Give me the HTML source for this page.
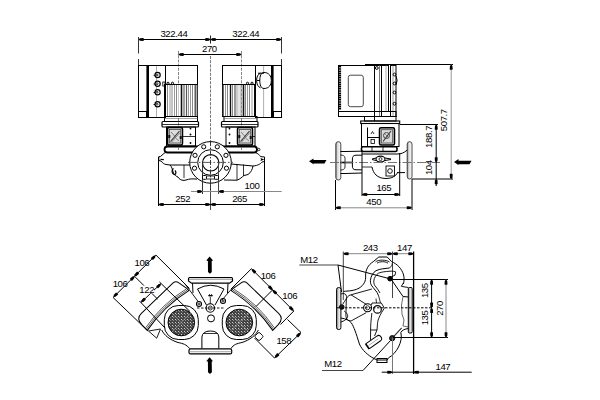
<!DOCTYPE html>
<html><head><meta charset="utf-8"><style>
html,body{margin:0;padding:0;background:#fff;width:600px;height:400px;overflow:hidden}
svg{display:block}
text{font-family:"Liberation Sans",sans-serif;font-size:9.6px;letter-spacing:-0.4px}
</style></head><body>
<svg width="600" height="400" viewBox="0 0 600 400">
<rect width="600" height="400" fill="#fff"/>
<line x1="138.5" y1="39.5" x2="281.5" y2="39.5" stroke="#000" stroke-width="1"/>
<polygon points="138.50,39.50 140.10,40.75 143.20,41.00 143.80,40.50 143.80,38.50 143.20,38.00 140.10,38.25" fill="#000"/>
<polygon points="210.50,39.50 208.90,38.25 205.80,38.00 205.20,38.50 205.20,40.50 205.80,41.00 208.90,40.75" fill="#000"/>
<polygon points="210.50,39.50 212.10,40.75 215.20,41.00 215.80,40.50 215.80,38.50 215.20,38.00 212.10,38.25" fill="#000"/>
<polygon points="281.50,39.50 279.90,38.25 276.80,38.00 276.20,38.50 276.20,40.50 276.80,41.00 279.90,40.75" fill="#000"/>
<text x="173.9" y="36.5" text-anchor="middle" fill="#000">322.44</text>
<text x="245.8" y="36.5" text-anchor="middle" fill="#000">322.44</text>
<line x1="138.5" y1="37" x2="138.5" y2="65" stroke="#333" stroke-width="1" stroke-dasharray="16.5,5.5"/>
<line x1="281.5" y1="37" x2="281.5" y2="65" stroke="#333" stroke-width="1" stroke-dasharray="16.5,5.5"/>
<line x1="210.5" y1="35.5" x2="210.5" y2="43.5" stroke="#222" stroke-width="1"/>
<line x1="178.5" y1="54.5" x2="241.5" y2="54.5" stroke="#000" stroke-width="1"/>
<polygon points="178.50,54.50 180.10,55.75 183.20,56.00 183.80,55.50 183.80,53.50 183.20,53.00 180.10,53.25" fill="#000"/>
<polygon points="241.50,54.50 239.90,53.25 236.80,53.00 236.20,53.50 236.20,55.50 236.80,56.00 239.90,55.75" fill="#000"/>
<text x="209.4" y="51.5" text-anchor="middle" fill="#000">270</text>
<line x1="178.5" y1="51" x2="178.5" y2="150" stroke="#777" stroke-width="0.9" stroke-dasharray="3,1.2"/>
<line x1="241.5" y1="51" x2="241.5" y2="150" stroke="#777" stroke-width="0.9" stroke-dasharray="3,1.2"/>
<line x1="210.5" y1="56" x2="210.5" y2="183" stroke="#666" stroke-width="0.9" stroke-dasharray="3,1.2"/>
<line x1="210.5" y1="183" x2="210.5" y2="210" stroke="#333" stroke-width="0.9"/>
<rect x="138.5" y="65.5" width="9.0" height="52.0" rx="0" stroke="#000" stroke-width="1" fill="none"/>
<line x1="147.2" y1="65" x2="147.2" y2="118" stroke="#000" stroke-width="1.6"/>
<rect x="148.5" y="65.5" width="17.0" height="52.0" rx="0" stroke="#000" stroke-width="1" fill="none"/>
<rect x="138.5" y="111.5" width="8.0" height="6.0" rx="0" stroke="#000" stroke-width="1" fill="none"/>
<line x1="156.5" y1="66" x2="156.5" y2="117" stroke="#999" stroke-width="0.8"/>
<circle cx="157.6" cy="75" r="2.6" stroke="#000" stroke-width="1.2" fill="#fff"/>
<circle cx="157" cy="75" r="1" stroke="#000" stroke-width="0.8" fill="none"/>
<line x1="153.6" y1="75.3" x2="155" y2="75.3" stroke="#000" stroke-width="1"/>
<circle cx="157.6" cy="83.7" r="2.6" stroke="#000" stroke-width="1.2" fill="#fff"/>
<circle cx="157" cy="83.7" r="1" stroke="#000" stroke-width="0.8" fill="none"/>
<line x1="153.6" y1="84.0" x2="155" y2="84.0" stroke="#000" stroke-width="1"/>
<circle cx="157.6" cy="92.2" r="2.6" stroke="#000" stroke-width="1.2" fill="#fff"/>
<circle cx="157" cy="92.2" r="1" stroke="#000" stroke-width="0.8" fill="none"/>
<line x1="153.6" y1="92.5" x2="155" y2="92.5" stroke="#000" stroke-width="1"/>
<circle cx="157.6" cy="104.2" r="2.6" stroke="#000" stroke-width="1.2" fill="#fff"/>
<circle cx="157" cy="104.2" r="1" stroke="#000" stroke-width="0.8" fill="none"/>
<line x1="153.6" y1="104.5" x2="155" y2="104.5" stroke="#000" stroke-width="1"/>
<rect x="165.5" y="65.5" width="32.0" height="19.0" rx="0" stroke="#000" stroke-width="1" fill="none"/>
<rect x="164.5" y="84.5" width="33.0" height="32.0" rx="0" stroke="#000" stroke-width="1" fill="none"/>
<line x1="165.2" y1="85" x2="165.2" y2="116" stroke="#000" stroke-width="1.5"/>
<line x1="167.5" y1="85" x2="167.5" y2="116" stroke="#888" stroke-width="1"/>
<line x1="170" y1="85" x2="170" y2="116" stroke="#999" stroke-width="1"/>
<line x1="172" y1="85" x2="172" y2="116" stroke="#888" stroke-width="1"/>
<line x1="174.5" y1="85" x2="174.5" y2="116" stroke="#999" stroke-width="1"/>
<line x1="176.5" y1="85" x2="176.5" y2="116" stroke="#888" stroke-width="1"/>
<line x1="178.5" y1="85" x2="178.5" y2="116" stroke="#ccc" stroke-width="1"/>
<line x1="181.5" y1="85" x2="181.5" y2="116" stroke="#111" stroke-width="1.6"/>
<line x1="184" y1="85" x2="184" y2="116" stroke="#444" stroke-width="1"/>
<line x1="186.5" y1="85" x2="186.5" y2="116" stroke="#555" stroke-width="1.2"/>
<line x1="188.5" y1="85" x2="188.5" y2="116" stroke="#999" stroke-width="1"/>
<line x1="190.5" y1="85" x2="190.5" y2="116" stroke="#999" stroke-width="1"/>
<line x1="192.5" y1="85" x2="192.5" y2="116" stroke="#888" stroke-width="1"/>
<line x1="195.2" y1="85" x2="195.2" y2="116" stroke="#333" stroke-width="1.2"/>
<line x1="197" y1="85" x2="197" y2="116" stroke="#666" stroke-width="1"/>
<circle cx="168" cy="83.3" r="1.1" stroke="#000" stroke-width="1" fill="none"/>
<circle cx="172.5" cy="83.3" r="1.1" stroke="#000" stroke-width="1" fill="none"/>
<rect x="162.8" y="82" width="2.2" height="4" rx="0" stroke="#000" stroke-width="0.8" fill="none"/>
<rect x="272.5" y="65.5" width="9.0" height="52.0" rx="0" stroke="#000" stroke-width="1" fill="none"/>
<line x1="272.8" y1="65" x2="272.8" y2="118" stroke="#000" stroke-width="1.6"/>
<rect x="255.5" y="65.5" width="16.0" height="52.0" rx="0" stroke="#000" stroke-width="1" fill="none"/>
<rect x="273.5" y="111.5" width="8.0" height="6.0" rx="0" stroke="#000" stroke-width="1" fill="none"/>
<line x1="263.6" y1="66" x2="263.6" y2="72" stroke="#999" stroke-width="0.8"/>
<line x1="263.6" y1="89" x2="263.6" y2="117" stroke="#999" stroke-width="0.8"/>
<rect x="222.5" y="65.5" width="33.0" height="19.0" rx="0" stroke="#000" stroke-width="1" fill="none"/>
<rect x="222.5" y="84.5" width="33.0" height="32.0" rx="0" stroke="#000" stroke-width="1" fill="none"/>
<line x1="223.2" y1="85" x2="223.2" y2="116" stroke="#444" stroke-width="1.2"/>
<line x1="225.5" y1="85" x2="225.5" y2="116" stroke="#999" stroke-width="1"/>
<line x1="227.5" y1="85" x2="227.5" y2="116" stroke="#888" stroke-width="1"/>
<line x1="230.5" y1="85" x2="230.5" y2="116" stroke="#111" stroke-width="1.4"/>
<line x1="232.5" y1="85" x2="232.5" y2="116" stroke="#888" stroke-width="1"/>
<line x1="235" y1="85" x2="235" y2="116" stroke="#555" stroke-width="1.2"/>
<line x1="237" y1="85" x2="237" y2="116" stroke="#999" stroke-width="1"/>
<line x1="239" y1="85" x2="239" y2="116" stroke="#ccc" stroke-width="1"/>
<line x1="241" y1="85" x2="241" y2="116" stroke="#999" stroke-width="1"/>
<line x1="243.5" y1="85" x2="243.5" y2="116" stroke="#111" stroke-width="1.6"/>
<line x1="245.5" y1="85" x2="245.5" y2="116" stroke="#888" stroke-width="1"/>
<line x1="247.5" y1="85" x2="247.5" y2="116" stroke="#999" stroke-width="1"/>
<line x1="249.5" y1="85" x2="249.5" y2="116" stroke="#888" stroke-width="1"/>
<line x1="252" y1="85" x2="252" y2="116" stroke="#999" stroke-width="1"/>
<line x1="254.8" y1="85" x2="254.8" y2="116" stroke="#000" stroke-width="1.5"/>
<circle cx="247.5" cy="83.3" r="1.1" stroke="#000" stroke-width="1" fill="none"/>
<circle cx="252" cy="83.3" r="1.1" stroke="#000" stroke-width="1" fill="none"/>
<path d="M264,72.5 C269,72.5 271.3,76 271.3,80.5 C271.3,85 269,88.5 264,88.5 C261,88.5 259.8,85 259.8,80.5 C259.8,76 261,72.5 264,72.5 Z" stroke="#000" stroke-width="1" fill="#fff" />
<path d="M260.5,73.2 C257.8,74.2 256.6,77 256.6,80.5 C256.6,84 257.8,86.8 260.5,87.8 M258,73.2 L264,73.2 M256.8,80.5 L260,80.5" stroke="#000" stroke-width="1" fill="none" />
<rect x="164.5" y="116.5" width="33.0" height="5.0" rx="0" stroke="#000" stroke-width="1" fill="none"/>
<line x1="164.5" y1="118.5" x2="197.5" y2="118.5" stroke="#666" stroke-width="0.6"/>
<rect x="162" y="121.5" width="36.5" height="5.5" rx="1" stroke="#000" stroke-width="1.2" fill="none"/>
<line x1="162" y1="124.5" x2="198.5" y2="124.5" stroke="#000" stroke-width="0.8"/>
<rect x="166.5" y="127" width="29.0" height="19" rx="0" stroke="#000" stroke-width="1" fill="none"/>
<rect x="167.5" y="127.5" width="15.0" height="17.5" rx="1.5" stroke="#000" stroke-width="1.5" fill="#dcdcdc"/>
<rect x="169.3" y="129.5" width="11.4" height="13.5" rx="0" stroke="#444" stroke-width="0.8" fill="none"/>
<line x1="170.5" y1="141.5" x2="179.5" y2="131" stroke="#333" stroke-width="1.1"/>
<line x1="171.5" y1="142" x2="180.0" y2="132.5" stroke="#555" stroke-width="0.7"/>
<line x1="171.0" y1="132" x2="175.5" y2="137" stroke="#555" stroke-width="0.7"/>
<line x1="175.5" y1="138" x2="179.0" y2="141" stroke="#555" stroke-width="0.7"/>
<rect x="168.3" y="135" width="2.0" height="3" rx="0" stroke="#000" stroke-width="0" fill="#111"/>
<rect x="179.7" y="136" width="2.0" height="3" rx="0" stroke="#000" stroke-width="0" fill="#111"/>
<line x1="182.5" y1="136.5" x2="195.5" y2="136.5" stroke="#000" stroke-width="0.8"/>
<circle cx="190.5" cy="128.5" r="0.9" stroke="#000" stroke-width="0" fill="#000"/>
<circle cx="190.5" cy="134.5" r="0.9" stroke="#000" stroke-width="0" fill="#000"/>
<circle cx="190.5" cy="143" r="0.9" stroke="#000" stroke-width="0" fill="#000"/>
<rect x="224.0" y="116.5" width="33.0" height="5.0" rx="0" stroke="#000" stroke-width="1" fill="none"/>
<line x1="224.0" y1="118.5" x2="257" y2="118.5" stroke="#666" stroke-width="0.6"/>
<rect x="221.5" y="121.5" width="36.5" height="5.5" rx="1" stroke="#000" stroke-width="1.2" fill="none"/>
<line x1="221.5" y1="124.5" x2="258" y2="124.5" stroke="#000" stroke-width="0.8"/>
<rect x="226.0" y="127" width="29.0" height="19" rx="0" stroke="#000" stroke-width="1" fill="none"/>
<rect x="237.5" y="127.5" width="15.0" height="17.5" rx="1.5" stroke="#000" stroke-width="1.5" fill="#dcdcdc"/>
<rect x="239.3" y="129.5" width="11.4" height="13.5" rx="0" stroke="#444" stroke-width="0.8" fill="none"/>
<line x1="240.5" y1="141.5" x2="249.5" y2="131" stroke="#333" stroke-width="1.1"/>
<line x1="241.5" y1="142" x2="250.0" y2="132.5" stroke="#555" stroke-width="0.7"/>
<line x1="241.0" y1="132" x2="245.5" y2="137" stroke="#555" stroke-width="0.7"/>
<line x1="245.5" y1="138" x2="249.0" y2="141" stroke="#555" stroke-width="0.7"/>
<rect x="238.3" y="135" width="2.0" height="3" rx="0" stroke="#000" stroke-width="0" fill="#111"/>
<rect x="249.7" y="136" width="2.0" height="3" rx="0" stroke="#000" stroke-width="0" fill="#111"/>
<line x1="252.5" y1="136.5" x2="255" y2="136.5" stroke="#000" stroke-width="0.8"/>
<circle cx="229.5" cy="128.5" r="0.9" stroke="#000" stroke-width="0" fill="#000"/>
<circle cx="229.5" cy="134.5" r="0.9" stroke="#000" stroke-width="0" fill="#000"/>
<circle cx="229.5" cy="143" r="0.9" stroke="#000" stroke-width="0" fill="#000"/>
<rect x="164.5" y="146.5" width="92.5" height="6.0" rx="3" stroke="#000" stroke-width="1.8" fill="none"/>
<circle cx="258.8" cy="149.5" r="1.2" stroke="#000" stroke-width="0.8" fill="none"/>
<path d="M165,152.6 L160.3,156.6 L158.8,156.6 L158.8,160.5 L161,161 C162.5,163 164,164 166,164.5 L170,165 L190,165" stroke="#000" stroke-width="1" fill="none" />
<line x1="160.5" y1="159.3" x2="163.8" y2="159.6" stroke="#000" stroke-width="1.3"/>
<path d="M170,165 C171.5,166.5 172.5,169 173,172 C174,175 176.5,176.5 178,177 C179,179 181,180.4 184,180.4 L186,180 C189,178.8 193,178.6 197,179.2" stroke="#000" stroke-width="1" fill="none" />
<line x1="184" y1="165" x2="184" y2="178" stroke="#000" stroke-width="0.8"/>
<path d="M173.5,168.5 C171.5,170 171.5,173 174,174.5 C176,175 176.5,172 175,170.5" stroke="#000" stroke-width="1.2" fill="none" />
<path d="M255.5,152.6 C258,153.5 259.5,155 260.5,156.6 L264.5,157 L264.5,161.5 L262,162 C260.5,164 258,165.5 253,166 L231,164" stroke="#000" stroke-width="1" fill="none" />
<polygon points="264.3,159.4 260.5,157.9 261,159.4 260.5,160.9" fill="#000"/>
<path d="M253,166 C252.5,169 251,172.5 248,174.5 L244,175.5 C242,177 240,179.2 237,180.2 L224,180" stroke="#000" stroke-width="1" fill="none" />
<line x1="243.5" y1="164.5" x2="243.5" y2="176" stroke="#000" stroke-width="0.8"/>
<line x1="237" y1="164.5" x2="237" y2="180" stroke="#000" stroke-width="0.8"/>
<circle cx="210.5" cy="162.4" r="20.8" stroke="#000" stroke-width="1" fill="#fff"/>
<circle cx="210.5" cy="162.5" r="12.8" stroke="#000" stroke-width="1" fill="none"/>
<circle cx="210.7" cy="162.8" r="8.2" stroke="#000" stroke-width="1.1" fill="none"/>
<circle cx="217.28" cy="146.81" r="2.1" stroke="#000" stroke-width="1" fill="none"/>
<circle cx="203.72" cy="146.81" r="2.1" stroke="#000" stroke-width="1" fill="none"/>
<circle cx="225.96" cy="155.32" r="2.1" stroke="#000" stroke-width="1" fill="none"/>
<circle cx="195.04" cy="155.32" r="2.1" stroke="#000" stroke-width="1" fill="none"/>
<circle cx="226.47" cy="168.21" r="2.1" stroke="#000" stroke-width="1" fill="none"/>
<circle cx="194.53" cy="168.21" r="2.1" stroke="#000" stroke-width="1" fill="none"/>
<line x1="202.5" y1="162.8" x2="202.5" y2="194" stroke="#333" stroke-width="1"/>
<line x1="218.5" y1="162.8" x2="218.5" y2="194" stroke="#444" stroke-width="1"/>
<rect x="202.5" y="175.5" width="4.0" height="3.8" rx="0.8" stroke="#000" stroke-width="1" fill="none"/>
<rect x="214.5" y="175.5" width="4.0" height="3.8" rx="0.8" stroke="#000" stroke-width="1" fill="none"/>
<line x1="206.5" y1="176" x2="214.9" y2="176" stroke="#000" stroke-width="0.8"/>
<line x1="206.5" y1="179" x2="214.9" y2="179" stroke="#000" stroke-width="0.8"/>
<line x1="210.5" y1="141" x2="210.5" y2="190" stroke="#222" stroke-width="0.9" stroke-dasharray="5,1.5,1.5,1.5"/>
<line x1="188" y1="162.4" x2="233" y2="162.4" stroke="#444" stroke-width="0.9" stroke-dasharray="9,2,1.5,2"/>
<line x1="158.5" y1="157" x2="158.5" y2="206" stroke="#000" stroke-width="1"/>
<line x1="264.5" y1="157" x2="264.5" y2="206" stroke="#000" stroke-width="1"/>
<line x1="158.5" y1="204.5" x2="264.5" y2="204.5" stroke="#000" stroke-width="1"/>
<polygon points="158.50,204.50 160.10,205.75 163.20,206.00 163.80,205.50 163.80,203.50 163.20,203.00 160.10,203.25" fill="#000"/>
<polygon points="210.50,204.50 208.90,203.25 205.80,203.00 205.20,203.50 205.20,205.50 205.80,206.00 208.90,205.75" fill="#000"/>
<polygon points="210.50,204.50 212.10,205.75 215.20,206.00 215.80,205.50 215.80,203.50 215.20,203.00 212.10,203.25" fill="#000"/>
<polygon points="264.50,204.50 262.90,203.25 259.80,203.00 259.20,203.50 259.20,205.50 259.80,206.00 262.90,205.75" fill="#000"/>
<text x="182.7" y="201.5" text-anchor="middle" fill="#000">252</text>
<text x="239.6" y="201.5" text-anchor="middle" fill="#000">265</text>
<line x1="191" y1="191.5" x2="281.7" y2="191.5" stroke="#888" stroke-width="1"/>
<polygon points="202.50,191.50 200.90,190.25 197.80,190.00 197.20,190.50 197.20,192.50 197.80,193.00 200.90,192.75" fill="#000"/>
<polygon points="218.50,191.50 220.10,192.75 223.20,193.00 223.80,192.50 223.80,190.50 223.20,190.00 220.10,190.25" fill="#000"/>
<text x="252" y="188.7" text-anchor="middle" fill="#000">100</text>
<rect x="338.5" y="65.5" width="50.0" height="46.0" rx="0" stroke="#000" stroke-width="1" fill="none"/>
<line x1="339.8" y1="66" x2="339.8" y2="110" stroke="#000" stroke-width="2.6" stroke-dasharray="1.6,0.6"/>
<rect x="348.3" y="75.2" width="15.0" height="31.5" rx="2.2" stroke="#333" stroke-width="0.9" fill="none"/>
<line x1="374.5" y1="65.5" x2="374.5" y2="121" stroke="#000" stroke-width="1"/>
<line x1="379.5" y1="65.5" x2="379.5" y2="116.5" stroke="#777" stroke-width="1"/>
<line x1="381.5" y1="65.5" x2="381.5" y2="116.5" stroke="#000" stroke-width="1"/>
<line x1="386" y1="65.5" x2="386" y2="111.5" stroke="#999" stroke-width="0.8"/>
<circle cx="376.8" cy="68" r="1.4" stroke="#000" stroke-width="1" fill="none"/>
<rect x="390.5" y="65.5" width="5.5" height="51.0" rx="0" stroke="#000" stroke-width="1" fill="none"/>
<line x1="393" y1="65.5" x2="393" y2="116.5" stroke="#888" stroke-width="0.8"/>
<circle cx="394.5" cy="74.5" r="1.4" stroke="#000" stroke-width="1" fill="none"/>
<circle cx="394.5" cy="83.5" r="1.4" stroke="#000" stroke-width="1" fill="none"/>
<circle cx="394.5" cy="92.5" r="1.4" stroke="#000" stroke-width="1" fill="none"/>
<circle cx="394.5" cy="103.7" r="1.4" stroke="#000" stroke-width="1" fill="none"/>
<path d="M396,76 q2.2,4.5 0,9" stroke="#000" stroke-width="1" fill="none" />
<rect x="338.5" y="111.5" width="57.5" height="5.0" rx="0" stroke="#000" stroke-width="1" fill="none"/>
<rect x="364.5" y="116.5" width="31.5" height="4.5" rx="0" stroke="#000" stroke-width="1" fill="none"/>
<rect x="360.7" y="121" width="39.0" height="2.5" rx="0" stroke="#000" stroke-width="1.1" fill="none"/>
<rect x="361.5" y="123.5" width="37.5" height="23.0" rx="0" stroke="#000" stroke-width="1" fill="none"/>
<rect x="379.5" y="127.7" width="15.0" height="17.3" rx="1.5" stroke="#000" stroke-width="1.5" fill="#dcdcdc"/>
<rect x="381.3" y="129.7" width="11.4" height="13.3" rx="0" stroke="#444" stroke-width="0.8" fill="none"/>
<line x1="383" y1="141.5" x2="391" y2="131" stroke="#333" stroke-width="1.1"/>
<circle cx="386.5" cy="135.5" r="3" stroke="#444" stroke-width="1" fill="none"/>
<line x1="384" y1="133" x2="389" y2="138" stroke="#555" stroke-width="0.7"/>
<line x1="367.5" y1="127.5" x2="367.5" y2="146" stroke="#000" stroke-width="1"/>
<line x1="367.5" y1="137.5" x2="379.5" y2="137.5" stroke="#000" stroke-width="1"/>
<path d="M371,134 l1.5,-2.5 l1.5,2.5" stroke="#000" stroke-width="0.8" fill="none" />
<rect x="371" y="139.5" width="3.5" height="4.0" rx="0" stroke="#000" stroke-width="0.8" fill="none"/>
<rect x="361.5" y="146.8" width="35.5" height="4.7" rx="1.5" stroke="#000" stroke-width="1.6" fill="none"/>
<line x1="372" y1="147" x2="372" y2="151.5" stroke="#000" stroke-width="0.8"/>
<line x1="383" y1="147" x2="383" y2="151.5" stroke="#000" stroke-width="0.8"/>
<defs><linearGradient id="fl" x1="0" x2="1"><stop offset="0" stop-color="#777"/><stop offset="0.35" stop-color="#ddd"/><stop offset="1" stop-color="#fff"/></linearGradient></defs>
<rect x="335.8" y="141.7" width="5.0" height="38.3" rx="2.4" stroke="#333" stroke-width="0.9" fill="url(#fl)"/>
<rect x="407.2" y="141.7" width="4.8" height="37.3" rx="2.4" stroke="#333" stroke-width="0.9" fill="url(#fl)"/>
<path d="M340.5,151.5 L345,151.5 L362,151.2 M340.5,173.5 L345,173.5 L362,173" stroke="#000" stroke-width="1" fill="none" />
<path d="M340.5,155 C343,155 345,156 345,158 L345,167 C345,169 343,170 340.5,170" stroke="#000" stroke-width="0.8" fill="none" />
<path d="M362,155.2 L356,155.2 C353,155.2 352.4,157 352.4,159 L352.4,166 C352.4,168 353,169.8 356,169.8 L362,169.8" stroke="#000" stroke-width="1" fill="none" />
<line x1="340.5" y1="162.5" x2="352" y2="162.5" stroke="#000" stroke-width="1.6"/>
<path d="M362,154 L397,154 C401,154 404,153 407.2,150" stroke="#000" stroke-width="1" fill="none" />
<path d="M397,172.6 L405,172.6 M372,167 C373,173 377,178.5 386,178.5 C392,178.5 396,176 397.5,172.6" stroke="#000" stroke-width="1" fill="none" />
<line x1="362" y1="167" x2="372" y2="167" stroke="#000" stroke-width="0.8"/>
<ellipse cx="380.5" cy="159.1" rx="4.5" ry="3" stroke="#000" fill="none" stroke-width="1.1"/>
<path d="M372,159 L376,158 M385,158 L391,159 M372,159.5 L376,160.5 M385,160.5 L391,159.5" stroke="#000" stroke-width="1" fill="none" />
<circle cx="380.5" cy="159.1" r="1.5" stroke="#000" stroke-width="0.8" fill="none"/>
<rect x="386" y="166" width="8.5" height="10" rx="0" stroke="#000" stroke-width="0.9" fill="none"/>
<circle cx="390" cy="171" r="2.3" stroke="#000" stroke-width="0.9" fill="none"/>
<line x1="330" y1="162.5" x2="440" y2="162.5" stroke="#666" stroke-width="0.9" stroke-dasharray="9,2,1.5,2"/>
<line x1="362" y1="150" x2="362" y2="196" stroke="#000" stroke-width="1"/>
<line x1="399.7" y1="153" x2="399.7" y2="196" stroke="#000" stroke-width="1"/>
<line x1="362" y1="194.5" x2="399.7" y2="194.5" stroke="#000" stroke-width="1"/>
<polygon points="362.00,194.50 363.60,195.75 366.70,196.00 367.30,195.50 367.30,193.50 366.70,193.00 363.60,193.25" fill="#000"/>
<polygon points="399.70,194.50 398.10,193.25 395.00,193.00 394.40,193.50 394.40,195.50 395.00,196.00 398.10,195.75" fill="#000"/>
<text x="383.8" y="191.0" text-anchor="middle" fill="#000">165</text>
<line x1="335.5" y1="180" x2="335.5" y2="210" stroke="#000" stroke-width="1"/>
<line x1="412" y1="179" x2="412" y2="210" stroke="#000" stroke-width="1"/>
<line x1="335.5" y1="207.8" x2="412" y2="207.8" stroke="#888" stroke-width="1"/>
<polygon points="335.50,207.80 337.10,209.05 340.20,209.30 340.80,208.80 340.80,206.80 340.20,206.30 337.10,206.55" fill="#000"/>
<polygon points="412.00,207.80 410.40,206.55 407.30,206.30 406.70,206.80 406.70,208.80 407.30,209.30 410.40,209.05" fill="#000"/>
<text x="373.7" y="204.5" text-anchor="middle" fill="#000">450</text>
<line x1="365" y1="64.5" x2="453" y2="64.5" stroke="#000" stroke-width="1"/>
<line x1="451.2" y1="64.5" x2="451.2" y2="179" stroke="#999" stroke-width="1"/>
<polygon points="451.20,64.50 449.95,66.10 449.70,69.20 450.20,69.80 452.20,69.80 452.70,69.20 452.45,66.10" fill="#000"/>
<polygon points="451.20,179.00 452.45,177.40 452.70,174.30 452.20,173.70 450.20,173.70 449.70,174.30 449.95,177.40" fill="#000"/>
<line x1="412" y1="179" x2="453" y2="179" stroke="#000" stroke-width="1"/>
<text x="446.8" y="120.2" text-anchor="middle" fill="#000" transform="rotate(-90 446.8 120.2)">507.7</text>
<line x1="399.7" y1="124.5" x2="438" y2="124.5" stroke="#000" stroke-width="1"/>
<line x1="436.2" y1="124.5" x2="436.2" y2="186" stroke="#000" stroke-width="1"/>
<polygon points="436.20,124.50 434.95,126.10 434.70,129.20 435.20,129.80 437.20,129.80 437.70,129.20 437.45,126.10" fill="#000"/>
<polygon points="436.20,162.50 437.45,160.90 437.70,157.80 437.20,157.20 435.20,157.20 434.70,157.80 434.95,160.90" fill="#000"/>
<polygon points="436.20,179.00 434.95,180.60 434.70,183.70 435.20,184.30 437.20,184.30 437.70,183.70 437.45,180.60" fill="#000"/>
<text x="432.2" y="136.9" text-anchor="middle" fill="#000" transform="rotate(-90 432.2 136.9)">188.7</text>
<text x="432.2" y="167.7" text-anchor="middle" fill="#000" transform="rotate(-90 432.2 167.7)">104</text>
<polygon points="309,161.3 313.5,158.4 313.5,160 326.5,160 324.5,163.6 313.5,163.6 313.5,164.3" fill="#000"/>
<polygon points="454,162 458.5,159.1 458.5,160.7 471.5,160.7 469.5,164.3 458.5,164.3 458.5,165" fill="#000"/>
<polygon points="209.6,256.5 213,260.6 211.7,260.9 211.8,272 210,273.8 208,272 207.9,260.9 206.3,260.6" fill="#000"/>
<polygon points="209.6,357.2 213,361.2 211.7,361.5 211.9,372.3 210,374 208,372.3 207.9,361.5 206.3,361.2" fill="#000"/>
<g transform="matrix(-0.722 0.692 -0.692 -0.722 188.8 290.6)"><path d="M0,0 Q28.75,6 57.5,0 L57.5,8 Q57.5,16.4 50,16.4 L6,16.4 Q2.5,16.4 1.8,12.5 L0,3 Z" fill="#fff" stroke="#000" stroke-width="1"/><path d="M1,1.5 Q28.5,7.5 57,1.5 M1,3 Q28.5,9 56.8,3" stroke="#222" stroke-width="0.7" fill="none"/></g>
<g transform="matrix(0.722 0.692 0.692 -0.722 231.2 290.6)"><path d="M0,0 Q28.75,6 57.5,0 L57.5,8 Q57.5,16.4 50,16.4 L6,16.4 Q2.5,16.4 1.8,12.5 L0,3 Z" fill="#fff" stroke="#000" stroke-width="1"/><path d="M1,1.5 Q28.5,7.5 57,1.5 M1,3 Q28.5,9 56.8,3" stroke="#222" stroke-width="0.7" fill="none"/></g>
<path d="M189,277.5 L231.5,277.5 Q232.5,277.5 232.5,279 L232.5,281 L229.5,283.2 L191.5,283.2 L188.5,281 L188.5,279 Q188.5,277.5 189.5,277.5 Z" stroke="#000" stroke-width="1.2" fill="#fff" />
<line x1="189" y1="279.2" x2="232" y2="279.2" stroke="#555" stroke-width="0.7"/>
<path d="M192.5,283.2 L193,293 M228,283.2 L227.5,293" stroke="#000" stroke-width="1" fill="none" />
<path d="M197.5,289 Q210.5,281.5 224,289 L215,305 M197.5,289 L206.5,305" stroke="#000" stroke-width="1" fill="none" />
<path d="M208.5,296 l1,-1.5 l1,1 l1,-1 l1,1.5 z" stroke="#000" stroke-width="0.8" fill="#000" />
<line x1="210.3" y1="297" x2="210.3" y2="304" stroke="#000" stroke-width="0.8"/>
<line x1="197" y1="308" x2="225" y2="308" stroke="#000" stroke-width="0.9" stroke-dasharray="2.5,1.5"/>
<circle cx="199" cy="304" r="2.5" stroke="#000" stroke-width="1.1" fill="none"/>
<circle cx="199" cy="304" r="1" stroke="#000" stroke-width="0.8" fill="none"/>
<circle cx="223" cy="301" r="2.5" stroke="#000" stroke-width="1.1" fill="none"/>
<circle cx="223" cy="301" r="1" stroke="#000" stroke-width="0.8" fill="none"/>
<circle cx="210.3" cy="308" r="4.2" stroke="#000" stroke-width="1.1" fill="none"/>
<circle cx="210.3" cy="308" r="2" stroke="#000" stroke-width="0.8" fill="none"/>
<circle cx="211" cy="318.4" r="3.5" stroke="#000" stroke-width="1" fill="none"/>
<path d="M185,284 L198.5,302 M235,285 L222,300" stroke="#000" stroke-width="0.9" fill="none" />
<path d="M161.7,330 C164,335 170,340 178,342.5 C183,343.5 186.5,344.5 189.5,348.5" stroke="#000" stroke-width="1" fill="none" />
<path d="M258.3,330 C256,335 250,340 242,342.5 C237,343.5 233.5,344.5 231,348.5" stroke="#000" stroke-width="1" fill="none" />
<path d="M201.9,348.5 L201.9,337 Q202.5,331 210.4,331 Q218.3,331 218.8,337 L218.8,348.5" stroke="#000" stroke-width="1" fill="none" />
<line x1="203" y1="333.5" x2="218" y2="333.5" stroke="#000" stroke-width="0.8"/>
<rect x="189" y="348.9" width="42.7" height="5.0" rx="1.5" stroke="#000" stroke-width="1.2" fill="#fff"/>
<line x1="189" y1="351.7" x2="231.7" y2="351.7" stroke="#666" stroke-width="0.6"/>
<defs><pattern id="gp" width="3" height="3" patternUnits="userSpaceOnUse"><rect width="3" height="3" fill="#444"/><rect x="1" y="1" width="1" height="1" fill="#ccc"/><rect x="2" y="2" width="1" height="1" fill="#888"/></pattern></defs>
<rect x="164.3" y="305.5" width="34" height="34" rx="14" fill="#fff" stroke="#000"/>
<circle cx="181.3" cy="322.5" r="13.3" fill="url(#gp)" stroke="#000" stroke-width="1"/>
<line x1="172.3" y1="313.5" x2="190.3" y2="331.5" stroke="#999" stroke-width="0.7"/>
<line x1="172.3" y1="331.5" x2="190.3" y2="313.5" stroke="#999" stroke-width="0.7"/>
<rect x="222.3" y="305.5" width="34" height="34" rx="14" fill="#fff" stroke="#000"/>
<circle cx="239.3" cy="322.5" r="13.3" fill="url(#gp)" stroke="#000" stroke-width="1"/>
<line x1="230.3" y1="313.5" x2="248.3" y2="331.5" stroke="#999" stroke-width="0.7"/>
<line x1="230.3" y1="331.5" x2="248.3" y2="313.5" stroke="#999" stroke-width="0.7"/>
<path d="M148.5,331 L160.5,329 L156.7,338.2 Z" stroke="#000" stroke-width="0.9" fill="#fff" />
<rect x="-3.2" y="-3.2" width="6.4" height="6.4" rx="1.5" transform="translate(259 336.5) rotate(45)" fill="#fff" stroke="#000" stroke-width="0.9"/>
<line x1="113.1" y1="297.5" x2="155.9" y2="255" stroke="#000" stroke-width="1"/>
<polygon points="113.50,297.10 115.52,296.85 117.88,294.84 117.95,294.06 116.54,292.65 115.76,292.72 113.75,295.08" fill="#000"/>
<polygon points="134.50,276.25 132.48,276.50 130.12,278.51 130.05,279.29 131.46,280.70 132.24,280.63 134.25,278.27" fill="#000"/>
<polygon points="134.50,276.25 136.52,276.00 138.88,273.99 138.95,273.21 137.54,271.80 136.76,271.87 134.75,274.23" fill="#000"/>
<polygon points="155.50,255.40 153.48,255.65 151.12,257.66 151.05,258.44 152.46,259.85 153.24,259.78 155.25,257.42" fill="#000"/>
<line x1="155.9" y1="255" x2="189.5" y2="288.5" stroke="#000" stroke-width="1"/>
<line x1="134.5" y1="276.25" x2="157.5" y2="299" stroke="#000" stroke-width="1"/>
<line x1="113.1" y1="297.5" x2="147.7" y2="330.7" stroke="#000" stroke-width="1"/>
<text x="141.9" y="265.7" text-anchor="middle" fill="#000">106</text>
<text x="120.1" y="286.5" text-anchor="middle" fill="#000">106</text>
<line x1="141" y1="302.5" x2="161" y2="283.5" stroke="#000" stroke-width="1"/>
<polygon points="141.20,302.30 143.22,302.05 145.58,300.04 145.65,299.26 144.24,297.85 143.46,297.92 141.45,300.28" fill="#000"/>
<polygon points="160.80,283.70 158.78,283.95 156.42,285.96 156.35,286.74 157.76,288.15 158.54,288.08 160.55,285.72" fill="#000"/>
<line x1="159.5" y1="282" x2="190" y2="311.5" stroke="#000" stroke-width="1"/>
<line x1="139.5" y1="301" x2="165" y2="328" stroke="#000" stroke-width="1"/>
<rect x="139.8" y="285.6" width="14.2" height="7.7" rx="0" stroke="#000" stroke-width="0" fill="#fff"/>
<text x="146.7" y="292.5" text-anchor="middle" fill="#000">122</text>
<line x1="251.4" y1="268.75" x2="293.8" y2="311" stroke="#000" stroke-width="1"/>
<polygon points="251.70,269.00 251.95,271.02 253.96,273.38 254.74,273.45 256.15,272.04 256.08,271.26 253.72,269.25" fill="#000"/>
<polygon points="272.60,289.90 272.35,287.88 270.34,285.52 269.56,285.45 268.15,286.86 268.22,287.64 270.58,289.65" fill="#000"/>
<polygon points="272.60,289.90 272.85,291.92 274.86,294.28 275.64,294.35 277.05,292.94 276.98,292.16 274.62,290.15" fill="#000"/>
<polygon points="293.50,310.70 293.25,308.68 291.24,306.32 290.46,306.25 289.05,307.66 289.12,308.44 291.48,310.45" fill="#000"/>
<line x1="251.4" y1="268.75" x2="231" y2="289" stroke="#000" stroke-width="1"/>
<line x1="272.6" y1="289.9" x2="256" y2="306.5" stroke="#000" stroke-width="1"/>
<line x1="293.8" y1="311" x2="280.5" y2="324.5" stroke="#000" stroke-width="1"/>
<text x="268.1" y="278.6" text-anchor="middle" fill="#000">106</text>
<text x="289.7" y="299.2" text-anchor="middle" fill="#000">106</text>
<line x1="274.5" y1="358" x2="301" y2="332.5" stroke="#000" stroke-width="1"/>
<polygon points="274.80,357.70 276.82,357.45 279.18,355.44 279.25,354.66 277.84,353.25 277.06,353.32 275.05,355.68" fill="#000"/>
<polygon points="300.70,332.80 298.68,333.05 296.32,335.06 296.25,335.84 297.66,337.25 298.44,337.18 300.45,334.82" fill="#000"/>
<line x1="301" y1="332.5" x2="287.5" y2="319.5" stroke="#000" stroke-width="1"/>
<line x1="274.5" y1="358" x2="254.5" y2="338" stroke="#000" stroke-width="1"/>
<text x="283.8" y="344.2" text-anchor="middle" fill="#000">158</text>
<line x1="343.3" y1="253.7" x2="413.6" y2="253.7" stroke="#888" stroke-width="1"/>
<polygon points="343.30,253.70 344.90,254.95 348.00,255.20 348.60,254.70 348.60,252.70 348.00,252.20 344.90,252.45" fill="#000"/>
<polygon points="392.50,253.70 390.90,252.45 387.80,252.20 387.20,252.70 387.20,254.70 387.80,255.20 390.90,254.95" fill="#000"/>
<polygon points="392.50,253.70 394.10,254.95 397.20,255.20 397.80,254.70 397.80,252.70 397.20,252.20 394.10,252.45" fill="#000"/>
<polygon points="413.60,253.70 412.00,252.45 408.90,252.20 408.30,252.70 408.30,254.70 408.90,255.20 412.00,254.95" fill="#000"/>
<line x1="343.3" y1="251.5" x2="343.3" y2="300" stroke="#444" stroke-width="1"/>
<line x1="392.5" y1="251.5" x2="392.5" y2="298" stroke="#444" stroke-width="1"/>
<line x1="413.6" y1="251.5" x2="413.6" y2="374" stroke="#000" stroke-width="1.3"/>
<text x="370.3" y="250.5" text-anchor="middle" fill="#000">243</text>
<text x="404.5" y="250.5" text-anchor="middle" fill="#000">147</text>
<line x1="299.3" y1="265" x2="338" y2="265" stroke="#444" stroke-width="1.2"/>
<line x1="338" y1="265" x2="389.5" y2="278.7" stroke="#000" stroke-width="1"/>
<line x1="338" y1="265" x2="341.5" y2="292" stroke="#000" stroke-width="1"/>
<text x="308.9" y="262.7" text-anchor="middle" fill="#000">M12</text>
<line x1="322" y1="370.5" x2="363" y2="370.5" stroke="#444" stroke-width="1.2"/>
<line x1="363" y1="370.5" x2="390.5" y2="340.5" stroke="#000" stroke-width="1"/>
<text x="333" y="366.6" text-anchor="middle" fill="#000">M12</text>
<path d="M373.2,261.7 L378.8,257 L387.2,257 L391.7,261.7 C397,264 401.5,268 403.6,275 C404.3,278 404.2,281 403.4,284" stroke="#000" stroke-width="1" fill="none" />
<path d="M373.2,261.7 C368,265 365.5,270 365.6,276 C366,281 364,285 359,288.2 C356,290 351,291 345.6,291.2 L343.5,291.5" stroke="#000" stroke-width="1" fill="none" />
<path d="M375.5,262 C378,259.5 386,259.5 389.5,262 M377,263.2 C380,261.2 385,261.2 388,263.2" stroke="#000" stroke-width="0.9" fill="none" />
<defs><linearGradient id="fl2" x1="0" x2="1"><stop offset="0" stop-color="#888"/><stop offset="0.5" stop-color="#ddd"/><stop offset="1" stop-color="#fff"/></linearGradient></defs>
<rect x="336.6" y="287.6" width="4.3" height="41.9" rx="1.8" stroke="#000" stroke-width="1" fill="url(#fl2)"/>
<rect x="408.3" y="287.5" width="3.9" height="45.5" rx="1.2" stroke="#000" stroke-width="1" fill="url(#fl2)"/>
<path d="M403.4,283 L401.3,286.3 L405,287 L408.3,287.5" stroke="#000" stroke-width="0.9" fill="none" />
<path d="M392,280.5 L403,296.5 L408.3,297" stroke="#000" stroke-width="1" fill="none" />
<path d="M403,296.5 L401.5,305 L402,314 L404,320 L403,326 L408.3,327" stroke="#444" stroke-width="0.8" fill="none" />
<path d="M340.9,294 C344,293 345,293.5 346,295 C348,299 344,301 343,304 M340.9,322 C344,321 346,320 347,318 C349,315 346,312 344,311" stroke="#000" stroke-width="0.9" fill="none" />
<path d="M340.9,318 C346,319 349,320 351.3,322.8 C354,327 356,333 359.4,344 C362,350 368,355.5 374,358.5 L377,360 L387,360 L388.7,357.7 C392,356 396,352 398.5,347 C401,342 402,337 400.8,332.5 C402,330 405,329 408.3,328.5" stroke="#000" stroke-width="1" fill="none" />
<rect x="377" y="358.5" width="10" height="4.0" rx="0" stroke="#000" stroke-width="1" fill="none"/>
<path d="M389.5,268 C385,268.6 380,268.7 376,270.7 C373,272.5 371,276 370.4,280.3 C370.2,283 371,285 372,286 C373.5,288 375,290 376,291 C377.5,293 378.3,295 378.8,296.6" stroke="#000" stroke-width="1" fill="none" />
<path d="M390,271.2 C385.5,271.6 381.5,271.8 378.5,273.2 C376,274.8 374,278 373.8,281 C373.6,283.5 374.5,285.5 376,287 C377.5,289 379,291 380,293" stroke="#000" stroke-width="0.9" fill="none" />
<path d="M389.5,268 C391.5,266 392.5,265 392,263.5 M390,271.2 C392.5,271 395,271.5 395.7,271.9 L395,275.2 L391,277" stroke="#000" stroke-width="0.9" fill="none" />
<path d="M371.9,289 L351,294.8 Q346.6,296 346.3,300 L345.9,316 Q346.2,320.8 351,321 L366.3,312.6 M351,294.8 L366.5,304.5" stroke="#000" stroke-width="0.9" fill="none" />
<path d="M372,303 L381.3,303 L384.4,308.1 L381.6,312.5 M372,303 L371.5,305" stroke="#000" stroke-width="0.9" fill="none" />
<path d="M378.8,296.6 L380.5,303 M376,298.5 L376.5,303" stroke="#000" stroke-width="0.8" fill="none" />
<path d="M371.9,313 C371,320 370.6,325 370.6,330 L370.5,340 M381.6,312.5 C379,317 377.5,321 377.5,323.75 L377,330 L374.5,336 M370.6,330 L377,330" stroke="#000" stroke-width="0.9" fill="none" />
<g transform="translate(374.2 341.6) rotate(-35)"><path d="M-8.3,-3 L5.3,-3 A3,3 0 0 1 5.3,3 L-8.3,3" fill="#fff" stroke="#000"/><line x1="-8.3" y1="-3.2" x2="-8.3" y2="3.2" stroke="#000" stroke-width="1.6"/><line x1="-7" y1="0" x2="5" y2="0" stroke="#888" stroke-width="0.6"/></g>
<path d="M392.2,338.2 L401.7,327.9" stroke="#333" stroke-width="1.2" fill="none" />
<circle cx="367.6" cy="307.8" r="4" stroke="#000" stroke-width="1.1" fill="none"/>
<circle cx="367.6" cy="307.8" r="2" stroke="#000" stroke-width="0.8" fill="none"/>
<circle cx="377.5" cy="309.4" r="3.8" stroke="#000" stroke-width="1.2" fill="none"/>
<circle cx="390" cy="278.7" r="2.3" stroke="#000" stroke-width="1" fill="#000"/>
<circle cx="392.2" cy="338.2" r="2.6" stroke="#000" stroke-width="1" fill="#333"/>
<circle cx="341.8" cy="307" r="2.3" stroke="#000" stroke-width="1" fill="#222"/>
<line x1="337" y1="307.8" x2="433" y2="307.8" stroke="#000" stroke-width="1" stroke-dasharray="2.5,1.5"/>
<line x1="392.5" y1="279.5" x2="448" y2="279.5" stroke="#000" stroke-width="1"/>
<line x1="392.5" y1="337.5" x2="448" y2="337.5" stroke="#000" stroke-width="1"/>
<line x1="392.5" y1="337.5" x2="392.5" y2="374" stroke="#777" stroke-width="1"/>
<line x1="431.6" y1="279.5" x2="431.6" y2="337.5" stroke="#000" stroke-width="1"/>
<polygon points="431.60,279.50 430.35,281.10 430.10,284.20 430.60,284.80 432.60,284.80 433.10,284.20 432.85,281.10" fill="#000"/>
<polygon points="431.60,307.80 432.85,306.20 433.10,303.10 432.60,302.50 430.60,302.50 430.10,303.10 430.35,306.20" fill="#000"/>
<polygon points="431.60,307.80 430.35,309.40 430.10,312.50 430.60,313.10 432.60,313.10 433.10,312.50 432.85,309.40" fill="#000"/>
<polygon points="431.60,337.50 432.85,335.90 433.10,332.80 432.60,332.20 430.60,332.20 430.10,332.80 430.35,335.90" fill="#000"/>
<line x1="446" y1="279.5" x2="446" y2="337.5" stroke="#888" stroke-width="1"/>
<polygon points="446.00,279.50 444.75,281.10 444.50,284.20 445.00,284.80 447.00,284.80 447.50,284.20 447.25,281.10" fill="#000"/>
<polygon points="446.00,337.50 447.25,335.90 447.50,332.80 447.00,332.20 445.00,332.20 444.50,332.80 444.75,335.90" fill="#000"/>
<text x="428.2" y="290.7" text-anchor="middle" fill="#000" transform="rotate(-90 428.2 290.7)">135</text>
<text x="428.2" y="317.9" text-anchor="middle" fill="#000" transform="rotate(-90 428.2 317.9)">135</text>
<text x="443.2" y="308.4" text-anchor="middle" fill="#000" transform="rotate(-90 443.2 308.4)">270</text>
<line x1="381.7" y1="372.2" x2="471.7" y2="372.2" stroke="#000" stroke-width="1"/>
<polygon points="392.50,372.20 390.90,370.95 387.80,370.70 387.20,371.20 387.20,373.20 387.80,373.70 390.90,373.45" fill="#000"/>
<polygon points="413.60,372.20 415.20,373.45 418.30,373.70 418.90,373.20 418.90,371.20 418.30,370.70 415.20,370.95" fill="#000"/>
<text x="442.9" y="369.8" text-anchor="middle" fill="#000">147</text>
</svg>
</body></html>
